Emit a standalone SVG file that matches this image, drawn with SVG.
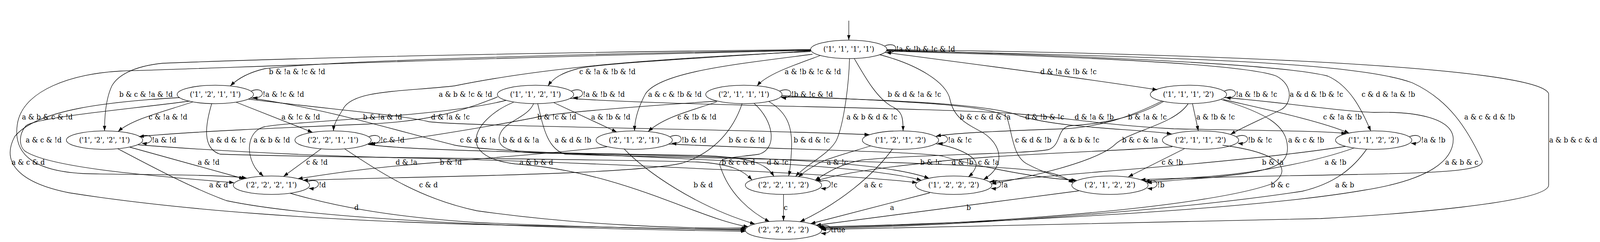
<svg xmlns="http://www.w3.org/2000/svg" width="4362" height="620" viewBox="0 0 4362 620" preserveAspectRatio="none">
<style>
svg{width:100vw;height:100vh}
text{font-family:"DejaVu Serif","Liberation Serif",serif;font-size:18.67px;fill:#000;text-anchor:middle}
text.l{text-anchor:start}
.node ellipse{fill:none;stroke:#000;stroke-width:1.3}
#edges path{fill:none;stroke:#000;stroke-width:1.3;marker-end:url(#ah)}
</style>
<defs>
<marker id="ah" viewBox="0 0 13 9.2" refX="13" refY="4.6" markerWidth="13" markerHeight="9.2" markerUnits="userSpaceOnUse" orient="auto"><path d="M0,0 L13,4.6 L0,9.2 z" fill="#000"/></marker>
</defs>
<rect width="4362" height="620" fill="#fff"/>
<g id="edges">
<path d="M2314,53 L2314,102.5"/>
<path d="M2412,117.5 c37,-13 42,21 4,17"/><text class="l" x="2443" y="132.5">!a &amp; !b &amp; !c &amp; !d</text>
<path d="M2211,128 C1600,138 900,155 722,176 C680,185 650,200 628,220"/><text x="810" y="190">b &amp; !a &amp; !c &amp; !d</text>
<path d="M2211,130 C1900,150 1640,162 1575,176 C1535,186 1510,198 1494,220"/><text x="1656" y="190">c &amp; !a &amp; !b &amp; !d</text>
<path d="M2237,142 C2170,165 2090,190 2064,220"/><text x="2216" y="190">a &amp; !b &amp; !c &amp; !d</text>
<path d="M2412,134 C2700,170 2950,200 3155,230"/><text x="2913" y="190">d &amp; !a &amp; !b &amp; !c</text>
<path d="M2210,127 C1600,133 900,145 444,162 C360,170 320,195 305,220 C290,250 285,290 285,335.4"/><text x="398" y="248">b &amp; c &amp; !a &amp; !d</text>
<path d="M2210,132 C1800,150 1500,170 1239,220 C1100,235 960,230 935,280 C915,310 910,320 909,335.4"/><text x="1269" y="248">a &amp; b &amp; !c &amp; !d</text>
<path d="M2215,139 C2000,165 1800,185 1760,240 C1737,280 1730,310 1730,335.4"/><text x="1840" y="248">a &amp; c &amp; !b &amp; !d</text>
<path d="M2329,150 C2360,200 2390,250 2430,272 C2460,285 2462,300 2462,335.5"/><text x="2493" y="248">b &amp; d &amp; !a &amp; !c</text>
<path d="M2417,128 C3000,145 3500,165 3620,195 C3680,220 3712,280 3737,335.6"/><text x="3785" y="248">c &amp; d &amp; !a &amp; !b</text>
<path d="M2417,131 C3000,146 3400,166 3480,195 C3530,220 3520,270 3490,282 C3440,305 3390,325 3355,344"/><text x="3589" y="248">a &amp; d &amp; !b &amp; !c</text>
<path d="M2210,129 C1200,150 600,175 330,182 C200,188 60,230 47,320 C35,400 100,440 236,445 C400,448 600,447 672,456"/><text x="129" y="306.5">a &amp; b &amp; c &amp; !d</text>
<path d="M2316,150 C2314,220 2300,320 2280,360 C2260,395 2200,420 2169,452"/><text x="2377" y="306.5">a &amp; b &amp; d &amp; !c</text>
<path d="M2398,140 C2500,165 2580,210 2590,255 C2600,300 2630,315 2680,340 C2730,370 2745,425 2681,460"/><text x="2686" y="306.5">b &amp; c &amp; d &amp; !a</text>
<path d="M2417,130 C3200,145 3700,160 3850,212 C3950,255 4000,330 4040,410 C4055,440 3900,443 3700,447 C3400,452 3200,456 3110,460.5"/><text x="4061" y="306.5">a &amp; c &amp; d &amp; !b</text>
<path d="M2418,127 C3500,140 4200,180 4222,240 L4222,474 C4222,520 3800,550 3600,560 C3000,575 2500,585 2239,588"/><text x="4289" y="365">a &amp; b &amp; c &amp; d</text>

<path d="M685,233 c37,-13 42,21 4,17"/><text class="l" x="716" y="248">!a &amp; !c &amp; !d</text>
<path d="M526,261 C450,285 360,305 322,337"/><text x="458" y="306.5">c &amp; !a &amp; !d</text>
<path d="M644,262 L852,339"/><text x="820" y="306.5">a &amp; !c &amp; !d</text>
<path d="M678,254 C900,280 1100,295 1170,312 C1300,325 2000,330 2370,345"/><text x="1228" y="306.5">d &amp; !a &amp; !c</text>
<path d="M517,259 C350,280 100,300 71,322 C50,345 50,380 75,391 C150,430 400,450 638,468"/><text x="119" y="365">a &amp; c &amp; !d</text>
<path d="M577,266 C560,320 550,380 600,395 C900,405 1500,405 1900,415 C2000,420 2030,440 2050,461"/><text x="621" y="365">a &amp; d &amp; !c</text>
<path d="M682,251 C900,280 1100,340 1240,372 C1400,400 2300,405 2512,462"/><text x="1303" y="365">c &amp; d &amp; !a</text>
<path d="M490,250 C300,260 100,280 40,350 C0,420 60,470 189,494 C500,540 900,565 1300,575 C1700,583 1900,587 2032,589.5"/><text x="77" y="422.5">a &amp; c &amp; d</text>

<path d="M1558,233 c37,-13 42,21 4,17"/><text class="l" x="1589" y="248">!a &amp; !b &amp; !d</text>
<path d="M1357,248 C1250,290 1150,312 1000,318 C800,326 500,338 379,350"/><text x="1043" y="306.5">b &amp; !a &amp; !d</text>
<path d="M1510,263 L1681,338"/><text x="1665" y="306.5">a &amp; !b &amp; !d</text>
<path d="M1554,252 C1800,270 2500,275 2750,290 C2900,300 3000,320 3200,330 C3450,335 3600,335 3670,342"/><text x="2983" y="306.5">d &amp; !a &amp; !b</text>
<path d="M1380,257 C1200,300 800,310 720,325 C680,335 670,380 690,420 C700,440 712,446 718,451.5"/><text x="741" y="365">a &amp; b &amp; !d</text>
<path d="M1466,266 C1480,320 1490,380 1540,395 C1800,405 2600,410 2850,440 C2900,450 2915,462 2926,468.5"/><text x="1562" y="365">a &amp; d &amp; !b</text>
<path d="M1455,265 C1440,300 1380,310 1365,340 C1350,370 1370,390 1460,392 C2000,400 2400,410 2533,457"/><text x="1420" y="365">b &amp; d &amp; !a</text>
<path d="M1400,262 C1300,300 1230,400 1405,420 C1700,440 1900,560 2040,581"/><text x="1462" y="422.5">a &amp; b &amp; d</text>

<path d="M2126,233 c37,-13 42,21 4,17"/><text class="l" x="2157" y="248">!b &amp; !c &amp; !d</text>
<path d="M1955,259 C1700,275 1500,290 1455,302 C1300,330 1100,360 1004,369"/><text x="1518" y="306.5">b &amp; !c &amp; !d</text>
<path d="M1954,261 C1880,285 1810,300 1767,337"/><text x="1900" y="306.5">c &amp; !b &amp; !d</text>
<path d="M2128,248 C2400,255 2700,265 2780,297 C2900,330 3100,330 3194,343"/><text x="2848" y="306.5">d &amp; !b &amp; !c</text>
<path d="M2023,266 C2000,330 1950,390 1860,418 C1700,450 1100,452 826,462"/><text x="2036" y="365">b &amp; c &amp; !d</text>
<path d="M2096,260 C2150,290 2160,330 2158,380 C2156,420 2153,440 2150,451"/><text x="2213" y="365">b &amp; d &amp; !c</text>
<path d="M2131,245 C2400,258 2700,265 2745,300 C2760,340 2760,400 2800,420 C2850,445 2900,458 2932,464.5"/><text x="2817" y="365">c &amp; d &amp; !b</text>
<path d="M2056,265 C2110,310 2120,380 2070,395 C2000,405 1950,400 1965,430 C1990,500 2050,545 2098,568"/><text x="2013" y="422.5">b &amp; c &amp; d</text>

<path d="M3338,233 c37,-13 42,21 4,17"/><text class="l" x="3369" y="248">!a &amp; !b &amp; !c</text>
<path d="M3168,259 C3080,300 3000,325 2900,330 C2750,335 2600,340 2552,349"/><text x="3128" y="306.5">b &amp; !a &amp; !c</text>
<path d="M3251,265.5 L3267,335.5"/><text x="3314" y="306.5">a &amp; !b &amp; !c</text>
<path d="M3335,255 C3450,280 3600,310 3678,341"/><text x="3660" y="306.5">c &amp; !a &amp; !b</text>
<path d="M3172,260 C3100,300 3000,318 2920,322 C2880,325 2895,370 2860,383 C2800,395 2500,395 2350,410 C2290,420 2250,445 2222,462"/><text x="2948" y="365">a &amp; b &amp; !c</text>
<path d="M3239,266 C3200,320 3080,335 3040,370 C2990,415 2800,455 2703,471"/><text x="3108" y="365">b &amp; c &amp; !a</text>
<path d="M3330,255 C3450,290 3510,320 3510,380 C3510,430 3450,440 3300,455 C3200,462 3150,466 3127,468.5"/><text x="3561" y="365">a &amp; c &amp; !b</text>
<path d="M3338,250 C3500,262 3650,285 3746,288 C3850,285 3960,300 3962,356 C3962,410 3900,460 3720,487 C3400,540 2600,575 2230,581"/><text x="3985" y="422.5">a &amp; b &amp; c</text>

<path d="M383,350 c37,-13 42,21 4,17"/><text class="l" x="414" y="365">!a &amp; !d</text>
<path d="M354,377 L665,458"/><text x="569" y="422.5">a &amp; !d</text>
<path d="M377,371 C700,395 1000,402 1075,404 C1500,412 2300,445 2500,468"/><text x="1108" y="422.5">d &amp; !a</text>
<path d="M321,381 C420,430 520,480 617,514 C900,570 1600,587 2033,592.5"/><text x="596" y="480.5">a &amp; d</text>

<path d="M1006,350 c37,-13 42,21 4,17"/><text class="l" x="1037" y="365">!c &amp; !d</text>
<path d="M876,381 L773,452"/><text x="864" y="422.5">c &amp; !d</text>
<path d="M1003,370 C1100,385 1500,392 1900,398 C2050,402 2090,420 2110,452"/><text x="2120" y="422.5">d &amp; !c</text>
<path d="M939,381 C1050,450 1150,510 1300,540 C1600,580 1900,586 2035,584"/><text x="1168" y="480.5">c &amp; d</text>

<path d="M1827,350 c37,-13 42,21 4,17"/><text class="l" x="1858" y="365">!b &amp; !d</text>
<path d="M1655,376 C1500,395 1250,410 1195,416 C1000,430 900,445 812,458"/><text x="1229" y="422.5">b &amp; !d</text>
<path d="M1823,369 C2100,382 2500,388 2570,400 C2620,415 2800,455 2935,462"/><text x="2624" y="422.5">d &amp; !b</text>
<path d="M1701,381 C1760,440 1900,530 2058,574"/><text x="1917" y="480.5">b &amp; d</text>

<path d="M2553,350 c37,-13 42,21 4,17"/><text class="l" x="2584" y="365">!a &amp; !c</text>
<path d="M2373,374 C2300,395 2240,410 2220,425 C2200,435 2190,443 2176,453"/><text x="2283" y="422.5">a &amp; !c</text>
<path d="M2551,368 C2620,380 2670,405 2660,428 C2655,440 2648,447 2640,453"/><text x="2695" y="422.5">c &amp; !a</text>
<path d="M2433,382 C2380,450 2290,520 2181,568"/><text x="2381" y="480.5">a &amp; c</text>

<path d="M3371,350 c37,-13 42,21 4,17"/><text class="l" x="3402" y="365">!b &amp; !c</text>
<path d="M3196,376 C3000,390 2700,395 2500,420 C2350,435 2260,452 2224,464"/><text x="2538" y="422.5">b &amp; !c</text>
<path d="M3229,381 L3076,453"/><text x="3196" y="422.5">c &amp; !b</text>
<path d="M3333,372 C3480,390 3530,430 3470,470 C3300,530 2700,575 2233,583"/><text x="3490" y="480.5">b &amp; c</text>

<path d="M3843,350 c37,-13 42,21 4,17"/><text class="l" x="3874" y="365">!a &amp; !b</text>
<path d="M3692,379 C3600,410 3450,440 3300,452 C3200,458 3150,462 3121,464.5"/><text x="3641" y="422.5">a &amp; !b</text>
<path d="M3668,375 C3500,400 3200,425 3000,440 C2850,452 2750,460 2698,466"/><text x="3470" y="422.5">b &amp; !a</text>
<path d="M3726,382 C3690,430 3640,470 3550,490 C3200,540 2600,580 2236,585"/><text x="3666" y="480.5">a &amp; b</text>

<path d="M838,465.5 c37,-13 42,21 4,17"/><text class="l" x="869" y="480.5">!d</text>
<path d="M791,495 C900,525 1050,555 1300,570 C1600,583 1900,588 2033,587"/><text x="972" y="538">d</text>
<path d="M2234,465.5 c37,-13 42,21 4,17"/><text class="l" x="2265" y="480.5">!c</text>
<path d="M2136,498 L2136,566"/><text x="2142" y="538">c</text>
<path d="M2698,465.5 c37,-13 42,21 4,17"/><text class="l" x="2729" y="480.5">!a</text>
<path d="M2535,494 L2210,573"/><text x="2432" y="538">a</text>
<path d="M3124,465.5 c37,-13 42,21 4,17"/><text class="l" x="3155" y="480.5">!b</text>
<path d="M2941,489 L2225,577"/><text x="2641" y="538">b</text>
<path d="M2234,580.5 c37,-13 42,21 4,17"/><text class="l" x="2265" y="595.5">true</text>
</g>
<g id="n1111" class="node"><ellipse cx="2314" cy="126.5" rx="104" ry="23.6"/><text x="2314" y="132.5">('1', '1', '1', '1')</text></g>
<g id="n1211" class="node"><ellipse cx="587" cy="242" rx="104" ry="23.6"/><text x="587" y="248">('1', '2', '1', '1')</text></g>
<g id="n1121" class="node"><ellipse cx="1460" cy="242" rx="104" ry="23.6"/><text x="1460" y="248">('1', '1', '2', '1')</text></g>
<g id="n2111" class="node"><ellipse cx="2028" cy="242" rx="104" ry="23.6"/><text x="2028" y="248">('2', '1', '1', '1')</text></g>
<g id="n1112" class="node"><ellipse cx="3240" cy="242" rx="104" ry="23.6"/><text x="3240" y="248">('1', '1', '1', '2')</text></g>
<g id="n1221" class="node"><ellipse cx="285" cy="359" rx="104" ry="23.6"/><text x="285" y="365">('1', '2', '2', '1')</text></g>
<g id="n2211" class="node"><ellipse cx="908" cy="359" rx="104" ry="23.6"/><text x="908" y="365">('2', '2', '1', '1')</text></g>
<g id="n2121" class="node"><ellipse cx="1729" cy="359" rx="104" ry="23.6"/><text x="1729" y="365">('2', '1', '2', '1')</text></g>
<g id="n1212" class="node"><ellipse cx="2455" cy="359" rx="104" ry="23.6"/><text x="2455" y="365">('1', '2', '1', '2')</text></g>
<g id="n2112" class="node"><ellipse cx="3273" cy="359" rx="104" ry="23.6"/><text x="3273" y="365">('2', '1', '1', '2')</text></g>
<g id="n1122" class="node"><ellipse cx="3745" cy="359" rx="104" ry="23.6"/><text x="3745" y="365">('1', '1', '2', '2')</text></g>
<g id="n2221" class="node"><ellipse cx="740" cy="474.5" rx="104" ry="23.6"/><text x="740" y="480.5">('2', '2', '2', '1')</text></g>
<g id="n2212" class="node"><ellipse cx="2136" cy="474.5" rx="104" ry="23.6"/><text x="2136" y="480.5">('2', '2', '1', '2')</text></g>
<g id="n1222" class="node"><ellipse cx="2600" cy="474.5" rx="104" ry="23.6"/><text x="2600" y="480.5">('1', '2', '2', '2')</text></g>
<g id="n2122" class="node"><ellipse cx="3026" cy="474.5" rx="104" ry="23.6"/><text x="3026" y="480.5">('2', '1', '2', '2')</text></g>
<g id="n2222" class="node"><ellipse cx="2136" cy="589.5" rx="104" ry="23.6"/><text x="2136" y="595.5">('2', '2', '2', '2')</text></g>
</svg>
